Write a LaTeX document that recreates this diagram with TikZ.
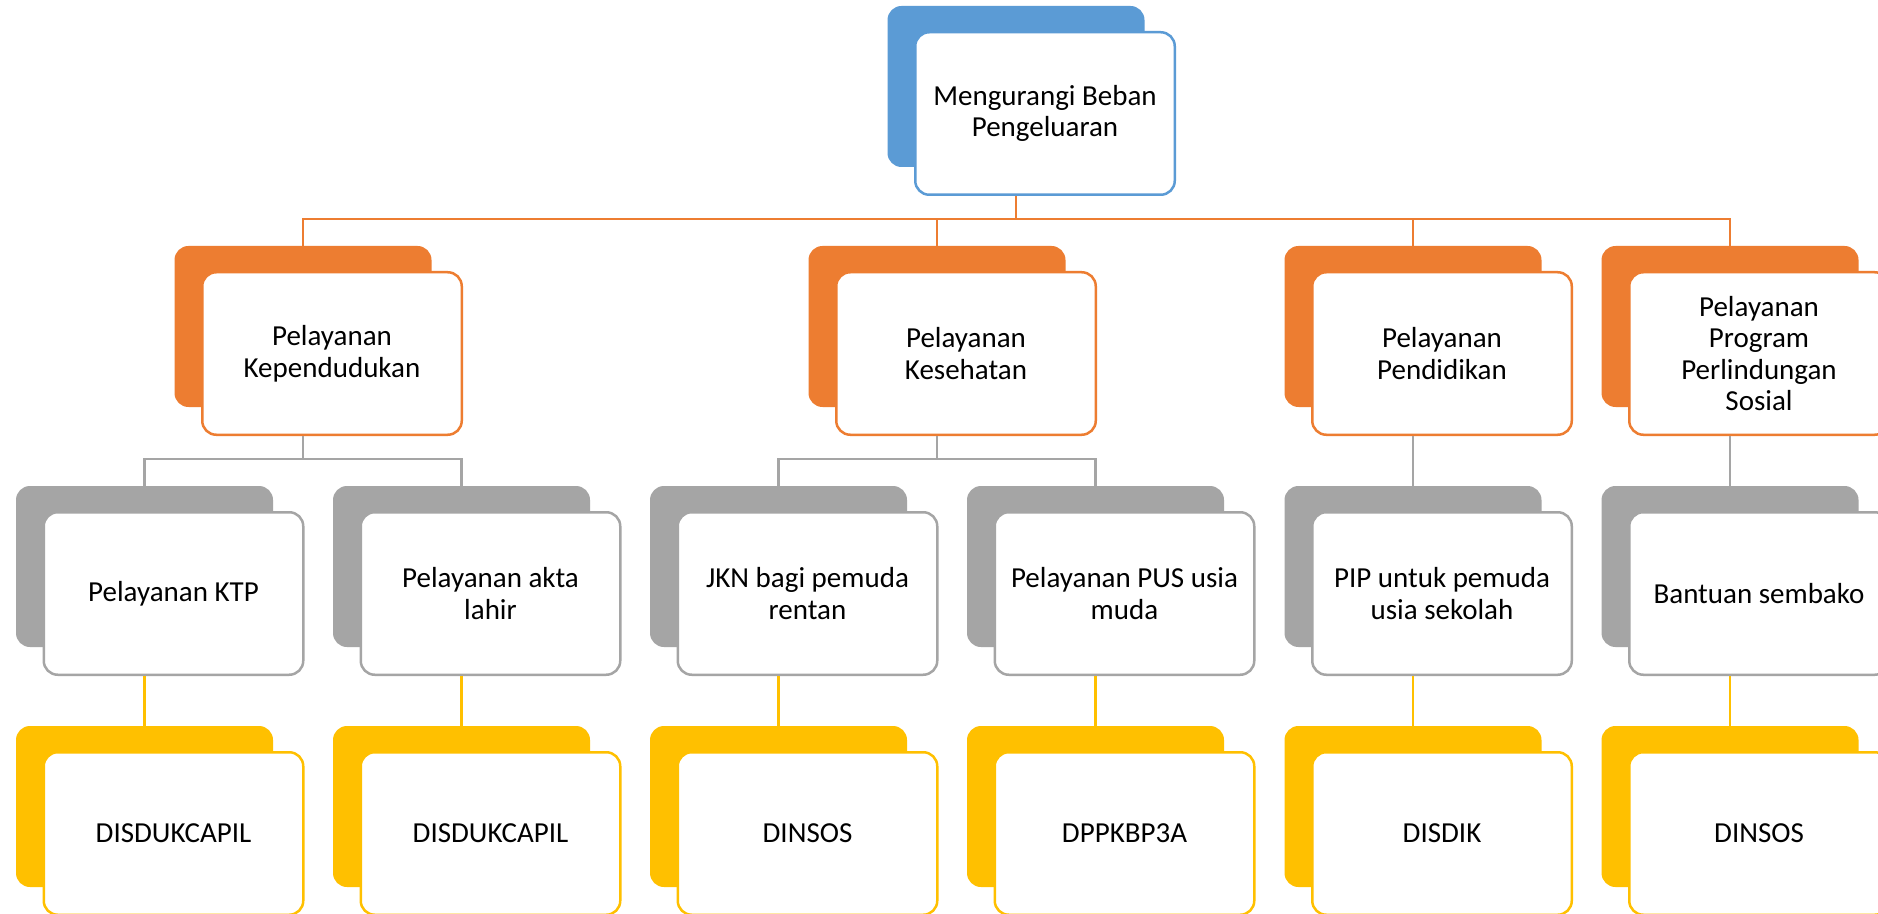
\documentclass[tikz,border=0pt]{standalone}
\usepackage{fontspec}
\setmainfont{Carlito}
\definecolor{cblue}{HTML}{5B9BD5}
\definecolor{corange}{HTML}{ED7D31}
\definecolor{cgray}{HTML}{A5A5A5}
\definecolor{cyellow}{HTML}{FFC000}
\tikzset{
  backbox/.style={rectangle, rounded corners=7pt, fill=#1, draw=none,
    minimum width=128.5pt, minimum height=80.5pt, inner sep=0pt},
  frontbox/.style={rectangle, rounded corners=7pt, fill=white, draw=#1, line width=1.25pt,
    minimum width=129.75pt, minimum height=81.25pt, inner sep=2pt, align=center,
    font=\fontsize{14.5pt}{15.8pt}\selectfont, text=black},
  conn/.style={draw=#1, line width=1.35pt}
}
\newcommand{\mkpair}[5]{%
  \node[backbox=#2] (#1b) at (#3,#4) {};
  \node[frontbox=#2] (#1f) at ([shift={(29,27)}]#1b.center) {#5};
}
\begin{document}
\begin{tikzpicture}[x=0.5pt,y=-0.5pt]
\useasboundingbox (0,0) rectangle (1878,914);
\fill[white] (0,0) rectangle (1878,914);
\clip (0,0) rectangle (1878,914);
% top
\mkpair{top}{cblue}{1016}{86.5}{Mengurangi Beban\\Pengeluaran}
% level 1
\mkpair{la}{corange}{303}{326.5}{Pelayanan\\Kependudukan}
\mkpair{lb}{corange}{937}{326.5}{Pelayanan\\Kesehatan}
\mkpair{lc}{corange}{1413}{326.5}{Pelayanan\\Pendidikan}
\mkpair{ld}{corange}{1730}{326.5}{Pelayanan\\Program\\Perlindungan\\Sosial}
% level 2
\mkpair{ma}{cgray}{144.5}{566.5}{Pelayanan KTP}
\mkpair{mb}{cgray}{461.5}{566.5}{Pelayanan akta\\lahir}
\mkpair{mc}{cgray}{778.5}{566.5}{JKN bagi pemuda\\rentan}
\mkpair{md}{cgray}{1095.5}{566.5}{Pelayanan PUS usia\\muda}
\mkpair{me}{cgray}{1413}{566.5}{PIP untuk pemuda\\usia sekolah}
\mkpair{mf}{cgray}{1730}{566.5}{Bantuan sembako}
% level 3
\mkpair{na}{cyellow}{144.5}{806.5}{DISDUKCAPIL}
\mkpair{nb}{cyellow}{461.5}{806.5}{DISDUKCAPIL}
\mkpair{nc}{cyellow}{778.5}{806.5}{DINSOS}
\mkpair{nd}{cyellow}{1095.5}{806.5}{DPPKBP3A}
\mkpair{ne}{cyellow}{1413}{806.5}{DISDIK}
\mkpair{nf}{cyellow}{1730}{806.5}{DINSOS}
% bus coordinates
\coordinate (busA) at (0,219);
\coordinate (busB) at (0,459);
% orange connectors
\draw[conn=corange] (topf.south -| topb.north) -- (topb.north |- busA);
\draw[conn=corange] (lab.north) -- (lab.north |- busA) -- (ldb.north |- busA) -- (ldb.north);
\draw[conn=corange] (lbb.north) -- (lbb.north |- busA);
\draw[conn=corange] (lcb.north) -- (lcb.north |- busA);
% gray connectors
\draw[conn=cgray] (laf.south -| lab.north) -- (lab.north |- busB);
\draw[conn=cgray] (mab.north) -- (mab.north |- busB) -- (mbb.north |- busB) -- (mbb.north);
\draw[conn=cgray] (lbf.south -| lbb.north) -- (lbb.north |- busB);
\draw[conn=cgray] (mcb.north) -- (mcb.north |- busB) -- (mdb.north |- busB) -- (mdb.north);
\draw[conn=cgray] (lcf.south -| lcb.north) -- (meb.north);
\draw[conn=cgray] (ldf.south -| ldb.north) -- (mfb.north);
% yellow connectors
\foreach \p/\q in {ma/na,mb/nb,mc/nc,md/nd,me/ne,mf/nf}{
  \draw[conn=cyellow] (\p f.south -| \p b.north) -- (\q b.north);
}
\end{tikzpicture}
\end{document}
